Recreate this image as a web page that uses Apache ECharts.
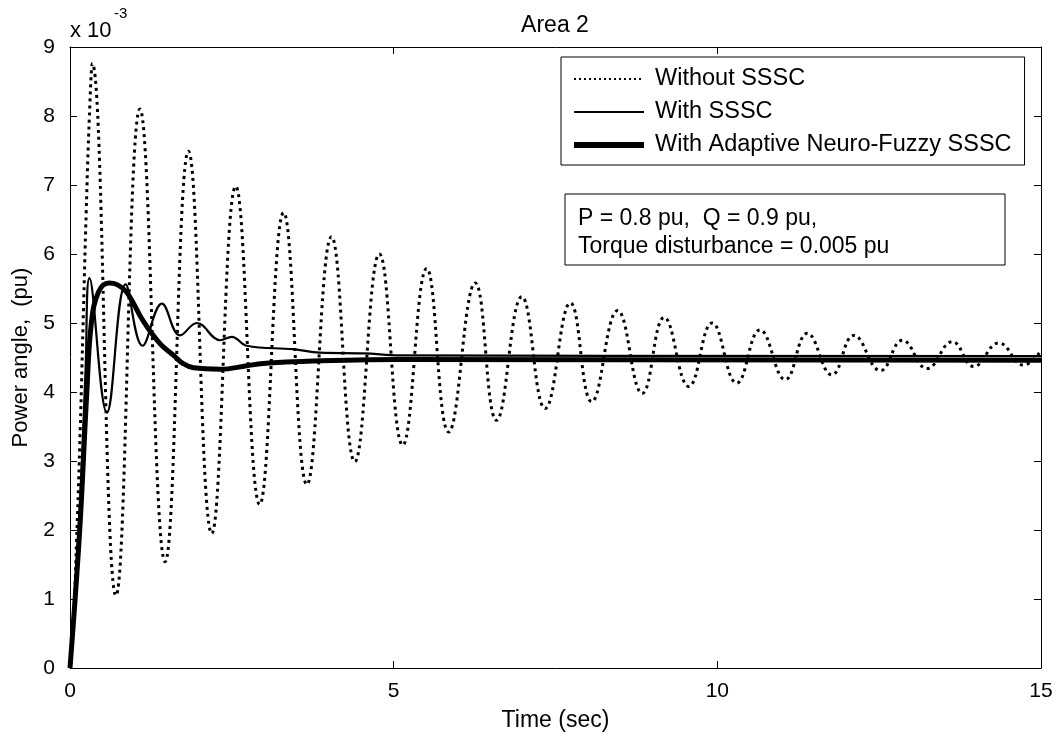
<!DOCTYPE html>
<html>
<head>
<meta charset="utf-8">
<script src="https://cdn.jsdelivr.net/npm/echarts@6/dist/echarts.min.js"></script>
<style>
html,body{margin:0;padding:0;background:#fff;}
#chart{width:1059px;height:740px;}
</style>
</head>
<body>
<div id="chart"></div>
<script>
// Values are in units of 1e-3 pu
const seriesNames = ['Without SSSC', 'With SSSC', 'With Adaptive Neuro-Fuzzy SSSC'];

const tWithout = [0, 0.05, 0.1, 0.15, 0.2, 0.25, 0.3, 0.345, 0.71, 1.08, 1.47, 1.83, 2.19, 2.56, 2.93, 3.30, 3.66, 4.04, 4.40, 4.78, 5.14, 5.51, 5.85, 6.26, 6.59, 6.98, 7.34, 7.73, 8.06, 8.46, 8.84, 9.18, 9.56, 9.92, 10.30, 10.66, 11.05, 11.39, 11.77, 12.11, 12.52, 12.86, 13.24, 13.63, 13.96, 14.35, 14.73, 15.0];
const vWithout = [0, 0.6, 1.8, 3.2, 4.9, 6.6, 8.0, 8.76, 1.05, 8.1, 1.54, 7.49, 1.95, 6.98, 2.37, 6.6, 2.66, 6.25, 2.99, 6.0, 3.23, 5.79, 3.42, 5.58, 3.59, 5.38, 3.76, 5.29, 3.86, 5.18, 3.98, 5.08, 4.08, 5.0, 4.13, 4.90, 4.18, 4.85, 4.25, 4.82, 4.31, 4.75, 4.34, 4.73, 4.37, 4.71, 4.39, 4.6];

const tWith = [0, 0.15, 0.24, 0.3, 0.57, 0.86, 1.12, 1.42, 1.70, 1.96, 2.32, 2.5, 2.73, 3.45, 3.86, 4.54, 5.1, 15];
const vWith = [0, 2.3, 4.3, 5.65, 3.70, 5.56, 4.67, 5.28, 4.82, 5.0, 4.75, 4.8, 4.67, 4.62, 4.57, 4.56, 4.53, 4.52];

const tAnfis = [0, 0.15, 0.26, 0.33, 0.44, 0.6, 0.72, 0.88, 1.13, 1.39, 1.6, 1.75, 1.91, 2.32, 2.73, 2.94, 3.45, 5.1, 15];
const vAnfis = [0, 2.0, 4.0, 5.0, 5.45, 5.58, 5.56, 5.44, 5.03, 4.70, 4.53, 4.41, 4.35, 4.33, 4.38, 4.41, 4.44, 4.47, 4.46];

const xTicks = [0, 5, 10, 15];
const yTicks = [0, 1, 2, 3, 4, 5, 6, 7, 8, 9];

function pairs(t, v) { return t.map((x, i) => [x, v[i]]); }

const FONT = 'Liberation Sans, Arial, sans-serif';
const chart = echarts.init(document.getElementById('chart'));

const axisCommon = {
  axisLine: { show: true, onZero: false, lineStyle: { color: '#000', width: 1 } },
  axisTick: { show: true, inside: true, length: 7, lineStyle: { color: '#000', width: 1 } },
  splitLine: { show: false }
};

const hiddenSymbol = { color: 'rgba(0,0,0,0)', borderWidth: 0, opacity: 0 };

chart.setOption({
  animation: false,
  backgroundColor: '#fff',
  title: {
    text: 'Area 2',
    left: 550,
    top: 9,
    textAlign: 'center',
    textStyle: { fontFamily: FONT, fontSize: 23, fontWeight: 'normal', color: '#000' }
  },
  grid: { left: 70, right: 18, top: 47, bottom: 72, containLabel: false },
  legend: {
    orient: 'vertical',
    left: 561,
    top: 57,
    backgroundColor: '#fff',
    borderColor: '#000',
    borderWidth: 1,
    padding: [10, 13, 8, 10],
    itemWidth: 70,
    itemHeight: 14,
    itemGap: 9,
    selectedMode: false,
    textStyle: { fontFamily: FONT, fontSize: 23.5, color: '#000', lineHeight: 21, padding: [0, 0, 0, 6] },
    data: [
      { name: seriesNames[0], lineStyle: { width: 2, type: [2, 3], cap: 'butt' }, itemStyle: hiddenSymbol },
      { name: seriesNames[1], lineStyle: { width: 2 }, itemStyle: hiddenSymbol },
      { name: seriesNames[2], lineStyle: { width: 6 }, itemStyle: hiddenSymbol }
    ]
  },
  xAxis: [
    Object.assign({}, axisCommon, {
      type: 'value', min: xTicks[0], max: xTicks[xTicks.length - 1], interval: 5, position: 'bottom',
      axisLabel: { color: '#000', fontFamily: FONT, fontSize: 21, margin: 13 },
      name: 'Time (sec)', nameLocation: 'middle', nameGap: 41,
      nameTextStyle: { color: '#000', fontFamily: FONT, fontSize: 23 }
    }),
    Object.assign({}, axisCommon, {
      type: 'value', min: xTicks[0], max: xTicks[xTicks.length - 1], interval: 5, position: 'top',
      axisLabel: { show: false }
    })
  ],
  yAxis: [
    Object.assign({}, axisCommon, {
      type: 'value', min: yTicks[0], max: yTicks[yTicks.length - 1], interval: 1, position: 'left',
      axisLabel: { color: '#000', fontFamily: FONT, fontSize: 21, margin: 15 },
      name: 'Power angle,  (pu)', nameLocation: 'middle', nameGap: 38,
      nameTextStyle: { color: '#000', fontFamily: FONT, fontSize: 22 }
    }),
    Object.assign({}, axisCommon, {
      type: 'value', min: yTicks[0], max: yTicks[yTicks.length - 1], interval: 1, position: 'right',
      axisLabel: { show: false }
    })
  ],
  series: [
    {
      name: seriesNames[0], type: 'line', data: pairs(tWithout, vWithout),
      showSymbol: false, symbol: 'none', smooth: 0.45, z: 2,
      lineStyle: { color: '#000', width: 3, type: [3, 4], cap: 'butt' },
      itemStyle: { color: '#000' }
    },
    {
      name: seriesNames[1], type: 'line', data: pairs(tWith, vWith),
      showSymbol: false, symbol: 'none', smooth: 0.4, z: 3,
      lineStyle: { color: '#000', width: 2.2 },
      itemStyle: { color: '#000' }
    },
    {
      name: seriesNames[2], type: 'line', data: pairs(tAnfis, vAnfis),
      showSymbol: false, symbol: 'none', smooth: 0.4, z: 4,
      lineStyle: { color: '#000', width: 5 },
      itemStyle: { color: '#000' }
    }
  ],
  graphic: [
    { type: 'text', left: 70, top: 20, style: { text: 'x 10', fontFamily: FONT, fontSize: 22, fill: '#000' } },
    { type: 'text', left: 114, top: 6, style: { text: '-3', fontFamily: FONT, fontSize: 15, fill: '#000' } },
    { type: 'rect', shape: { x: 565, y: 194, width: 440, height: 71 }, style: { fill: '#fff', stroke: '#000', lineWidth: 1 }, z: 10 },
    { type: 'text', x: 578, y: 207, z: 11, style: { text: 'P = 0.8 pu,  Q = 0.9 pu,', fontFamily: FONT, fontSize: 23, fill: '#000' } },
    { type: 'text', x: 578, y: 235, z: 11, style: { text: 'Torque disturbance = 0.005 pu', fontFamily: FONT, fontSize: 23, fill: '#000' } }
  ]
});
</script>
</body>
</html>
